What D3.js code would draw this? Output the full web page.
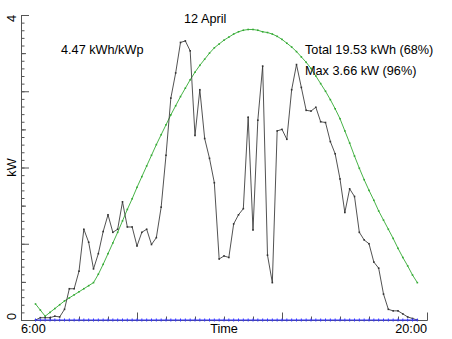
<!DOCTYPE html>
<html>
<head>
<meta charset="utf-8">
<script src="https://cdn.jsdelivr.net/npm/d3@7"></script>
<style>
  body { margin: 0; background: #fff; }
  svg text { font-family: "Liberation Sans", Arial, Helvetica, sans-serif; font-size: 12.7px; fill: #000; }
</style>
</head>
<body>
<div class="container"></div>
<script>
// readings every 10 minutes, 6:30 .. 19:40
var startHour = 6.5, stepHour = 1 / 6

// measured output (kW)
var power = [
  0.00, 0.03, 0.03, 0.03, 0.05, 0.04, 0.14, 0.41, 0.41, 0.64,
  1.19, 1.02, 0.67, 0.87, 1.16, 1.38, 1.15, 1.19, 1.55, 1.22,
  1.22, 0.97, 1.15, 1.19, 0.99, 1.08, 1.48, 2.16, 2.91, 3.24,
  3.64, 3.66, 3.53, 2.42, 3.02, 2.38, 2.12, 1.80, 0.80, 0.84,
  0.82, 1.26, 1.38, 1.46, 2.66, 1.18, 2.62, 3.33, 0.85, 0.49,
  2.48, 2.50, 2.37, 3.02, 3.35, 3.05, 2.75, 2.74, 2.79, 2.60,
  2.59, 2.34, 2.18, 1.85, 1.41, 1.72, 1.62, 1.15, 1.05, 1.00,
  0.76, 0.68, 0.34, 0.14, 0.12, 0.12, 0.08, 0.04, 0.02, 0.00
]

// clear sky model (kW)
var clearSky = [
  0.21, 0.13, 0.05, 0.10, 0.15, 0.20, 0.25, 0.29, 0.33, 0.37,
  0.41, 0.45, 0.49, 0.60, 0.73, 0.87, 1.01, 1.15, 1.30, 1.45,
  1.59, 1.74, 1.88, 2.02, 2.16, 2.30, 2.43, 2.56, 2.69, 2.81,
  2.93, 3.04, 3.15, 3.25, 3.34, 3.42, 3.50, 3.57, 3.62, 3.67,
  3.71, 3.75, 3.78, 3.80, 3.81, 3.81, 3.80, 3.78, 3.77, 3.75,
  3.72, 3.68, 3.63, 3.58, 3.52, 3.45, 3.38, 3.30, 3.20, 3.10,
  3.00, 2.89, 2.77, 2.64, 2.48, 2.32, 2.15, 1.99, 1.84, 1.70,
  1.57, 1.43, 1.31, 1.19, 1.07, 0.94, 0.82, 0.71, 0.59, 0.49
]

// baseline series (kW)
var baseline = power.map(function () { return 0 })

var xLabels = ["6:00", "20:00"]
var yLabels = ["0", "4"]
var title = "12 April"
var notes = ["4.47 kWh/kWp", "Total 19.53 kWh (68%)", "Max 3.66 kW (96%)"]

var width = 452, height = 339

var svg = d3.select(".container").append("svg")
    .attr("width", width)
    .attr("height", height)

var x = d3.scaleLinear().domain([6, 20]).range([21, 427])
var y = d3.scaleLinear().domain([0, 4]).range([320, 15])

function hourOf(i) { return startHour + i * stepHour }

// ---------- AXES ----------
var axisColor = "#555"

function yAxis(values, size) {
  var g = svg.append("g")
    .attr("transform", "translate(21,0)")
    .call(d3.axisLeft(y).tickValues(values).tickSize(-size).tickSizeOuter(0).tickFormat(""))
  g.selectAll("line").attr("stroke", axisColor)
  g.select(".domain").attr("stroke", axisColor)
}
yAxis(d3.range(0, 41).map(function (d) { return d / 10 }), 3.5)
yAxis([0.5, 1.5, 2.5, 3.5], 5)
yAxis([0, 1, 2, 3, 4], 8)

function xAxis(values, size) {
  var g = svg.append("g")
    .attr("transform", "translate(0,320)")
    .call(d3.axisBottom(x).tickValues(values).tickSize(-size).tickSizeOuter(0).tickFormat(""))
  g.selectAll("line").attr("stroke", axisColor)
  g.select(".domain").attr("stroke", axisColor)
}
xAxis(d3.range(7, 20), 3.5)
xAxis([10, 15, 20], 7.5)

// axis labels
svg.append("text").attr("x", x(6)).attr("y", 333).attr("text-anchor", "start").text(xLabels[0])
svg.append("text").attr("x", x(20)).attr("y", 333).attr("text-anchor", "end").text(xLabels[1])
svg.append("text").attr("x", (x(6) + x(20)) / 2).attr("y", 333).attr("text-anchor", "middle").text("Time")

function yText(t, pos, anchor) {
  svg.append("text")
    .attr("transform", "translate(16," + pos + ") rotate(-90)")
    .attr("text-anchor", anchor)
    .text(t)
}
yText(yLabels[0], y(0), "start")
yText(yLabels[1], y(4), "end")
yText("kW", (y(0) + y(4)) / 2, "middle")

// ---------- SERIES ----------
var line = d3.line()
  .x(function (d, i) { return x(hourOf(i)) })
  .y(function (d) { return y(d) })

function series(data, color, w) {
  svg.append("path")
    .datum(data)
    .attr("d", line)
    .attr("fill", "none")
    .attr("stroke", color)
    .attr("stroke-width", w)
  svg.append("g").selectAll("rect")
    .data(data)
    .enter().append("rect")
    .attr("x", function (d, i) { return x(hourOf(i)) - 0.8 })
    .attr("y", function (d) { return y(d) - 0.8 })
    .attr("width", 1.6)
    .attr("height", 1.6)
    .attr("fill", color)
}

series(clearSky, "#33aa33", 0.9)
series(power, "#333", 0.85)

// blue baseline with small crosses
svg.append("path")
  .datum(baseline)
  .attr("d", line)
  .attr("fill", "none")
  .attr("stroke", "#3535ff")
  .attr("stroke-width", 1)
svg.append("g").selectAll("line")
  .data(baseline)
  .enter().append("line")
  .attr("x1", function (d, i) { return x(hourOf(i)) })
  .attr("x2", function (d, i) { return x(hourOf(i)) })
  .attr("y1", function (d) { return y(d) - 1.5 })
  .attr("y2", function (d) { return y(d) + 1.5 })
  .attr("stroke", "#3535ff")
  .attr("stroke-width", 1)

// ---------- TEXT ----------
svg.append("text").attr("x", 184).attr("y", 23).text(title)
svg.append("text").attr("x", 61).attr("y", 53.5).text(notes[0])
svg.append("text").attr("x", 305).attr("y", 53.5).text(notes[1])
svg.append("text").attr("x", 305).attr("y", 75).text(notes[2])
</script>
</body>
</html>
